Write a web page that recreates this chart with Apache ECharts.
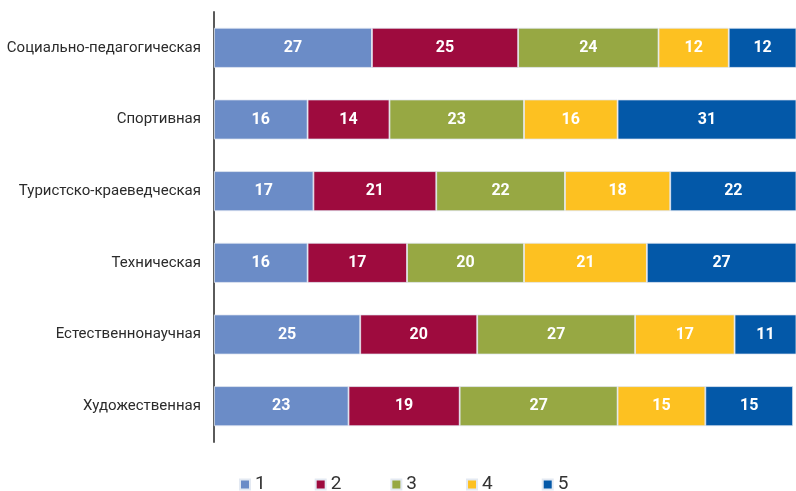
<!DOCTYPE html>
<html>
<head>
<meta charset="utf-8">
<script src="https://cdn.jsdelivr.net/npm/echarts@6/dist/echarts.min.js"></script>
<style>
html,body{margin:0;padding:0;background:#fff;}
#chart{width:796px;height:491px;}
</style>
</head>
<body>
<div id="chart"></div>
<script>
const categories = ['Социально-педагогическая','Спортивная','Туристско-краеведческая','Техническая','Естественнонаучная','Художественная'];
const seriesNames = ['1','2','3','4','5'];
const s1 = [27,16,17,16,25,23];
const s2 = [25,14,21,17,20,19];
const s3 = [24,23,22,20,27,27];
const s4 = [12,16,18,21,17,15];
const s5 = [12,31,22,27,11,15];
const colors = ['#6B8CC7','#9E0B3E','#97A843','#FDC121','#0358A8'];
const FONT = 'Roboto, "Liberation Sans", sans-serif';

const allData = [s1,s2,s3,s4,s5];
const chart = echarts.init(document.getElementById('chart'), null, {renderer:'canvas'});
chart.setOption({
  animation:false,
  color: colors,
  grid:{left:214, right:0, top:12, bottom:49, containLabel:false, outerBoundsMode:'none'},
  xAxis:{type:'value', min:0, max:99.5, show:false},
  yAxis:{type:'category', data:categories, inverse:true,
    axisLine:{show:true, lineStyle:{color:'#5a5a5a', width:2}},
    axisTick:{show:false},
    axisLabel:{margin:13, fontFamily:FONT, fontSize:15, color:'#2b2b2b'}
  },
  legend:{left:239, top:475, padding:0, itemWidth:10, itemHeight:10, icon:'rect', itemGap:49,
    textStyle:{fontFamily:FONT, fontSize:19, color:'#333'}, data:seriesNames},
  series: allData.map((d,i)=>({
    name:seriesNames[i], type:'bar', stack:'total', barWidth:40, data:d,
    itemStyle:{borderColor:'#e3e9f2', borderWidth:0.8},
    label:{show:true, position:'inside', color:'#fff', fontFamily:FONT, fontWeight:'bold', fontSize:16}
  }))
});
</script>
</body>
</html>
